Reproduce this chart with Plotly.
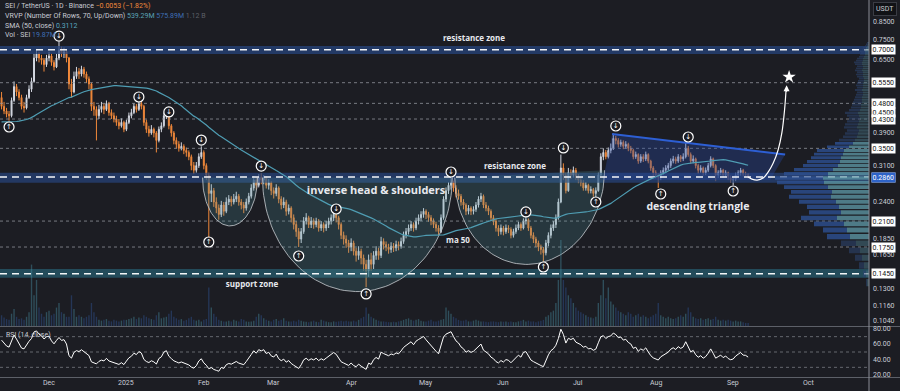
import numpy as np
import pandas as pd
import plotly.graph_objects as go

# ---------------- data ----------------
START_DATE = "2024-11-12"
FIRST_OPEN = 0.500
CLOSE = [0.470,0.455,0.445,0.440,0.490,0.540,0.520,0.500,0.470,0.465,0.500,0.530,0.560,0.660,0.680,0.660,0.650,0.630,0.660,
         0.670,0.640,0.620,0.660,0.700,0.680,0.690,0.660,0.550,0.520,0.580,0.600,0.590,0.610,0.590,0.570,0.550,0.470,0.460,0.440,0.460,0.470,0.460,0.480,0.450,0.440,0.430,0.420,0.410,0.420,0.400,
         0.420,0.440,0.450,0.470,0.460,0.480,0.470,0.420,0.400,0.390,0.400,0.390,0.370,0.400,0.410,0.440,0.450,0.410,0.390,0.370,0.360,0.350,0.355,0.345,0.340,0.330,0.310,0.300,0.310,0.330,0.340,
         0.310,0.290,0.255,0.260,0.240,0.230,0.220,0.235,0.225,0.240,0.245,0.240,0.245,0.250,0.240,0.235,0.230,0.240,0.250,0.265,0.280,0.270,0.285,0.280,0.285,0.270,0.275,0.260,
         0.255,0.265,0.245,0.235,0.240,0.225,0.230,0.215,0.205,0.195,0.185,0.195,0.210,0.215,0.205,0.210,0.205,0.210,0.200,0.205,0.200,0.205,0.210,0.215,0.220,0.215,0.205,0.190,0.185,0.180,0.175,
         0.180,0.170,0.165,0.170,0.162,0.155,0.148,0.160,0.155,0.165,0.170,0.165,0.182,0.178,0.175,0.172,0.176,0.174,0.178,0.176,0.182,0.190,0.195,0.200,0.205,0.200,0.210,0.215,0.220,0.225,
         0.220,0.215,0.210,0.205,0.200,0.195,0.215,0.245,0.260,0.270,0.275,0.265,0.255,0.250,0.240,0.235,0.225,0.230,0.225,0.228,0.235,0.245,0.250,0.235,0.230,0.225,0.215,0.210,0.200,0.195,0.200,
         0.195,0.200,0.198,0.190,0.195,0.200,0.205,0.200,0.210,0.212,0.200,0.190,0.185,0.180,0.175,0.172,0.168,0.180,0.190,0.200,0.205,0.215,0.240,0.305,0.290,0.260,0.295,0.290,0.300,0.285,
         0.280,0.275,0.265,0.270,0.260,0.262,0.255,0.260,0.290,0.330,0.340,0.330,0.345,0.350,0.375,0.370,0.360,0.365,0.355,0.360,0.350,0.345,0.330,0.335,0.320,0.330,0.325,0.335,0.320,0.305,0.295,
         0.290,0.285,0.295,0.300,0.305,0.310,0.320,0.325,0.320,0.330,0.325,0.330,0.350,0.335,0.320,0.325,0.310,0.300,0.305,0.295,0.300,0.310,0.325,0.310,0.290,0.295,0.300,0.290,0.295,0.285,
         0.280,0.282,0.290,0.295,0.300,0.292,0.2913,0.2860]
HIGH = [0.520,0.485,0.465,0.455,0.500,0.560,0.550,0.530,0.510,0.485,0.510,0.545,0.575,0.680,0.700,0.690,0.675,0.660,0.675,
        0.690,0.680,0.650,0.680,0.740,0.715,0.710,0.700,0.665,0.570,0.600,0.620,0.615,0.625,0.620,0.600,0.580,0.555,0.485,0.470,0.475,0.485,0.480,0.490,0.485,0.460,0.450,0.440,0.430,0.432,0.425,
        0.428,0.450,0.462,0.480,0.478,0.492,0.488,0.475,0.428,0.410,0.412,0.405,0.395,0.408,0.420,0.450,0.462,0.455,0.415,0.395,0.378,0.368,0.365,0.360,0.352,0.345,0.335,0.318,0.318,0.338,0.355,
        0.345,0.315,0.295,0.272,0.265,0.248,0.236,0.242,0.240,0.248,0.252,0.250,0.254,0.258,0.254,0.245,0.240,0.246,0.256,0.272,0.288,0.286,0.292,0.294,0.290,0.288,0.282,0.278,
        0.266,0.272,0.268,0.250,0.248,0.244,0.236,0.233,0.220,0.210,0.200,0.200,0.216,0.222,0.218,0.216,0.214,0.215,0.213,0.210,0.208,0.210,0.215,0.220,0.224,0.226,0.218,0.208,0.195,0.190,0.184,
        0.186,0.183,0.174,0.176,0.173,0.166,0.160,0.166,0.168,0.170,0.176,0.174,0.188,0.186,0.182,0.179,0.181,0.180,0.183,0.182,0.187,0.195,0.200,0.205,0.210,0.208,0.215,0.220,0.225,0.230,
        0.228,0.224,0.219,0.214,0.209,0.204,0.220,0.250,0.266,0.276,0.285,0.279,0.270,0.262,0.254,0.245,0.238,0.235,0.233,0.233,0.240,0.250,0.256,0.253,0.240,0.234,0.228,0.219,0.213,0.204,0.205,
        0.203,0.205,0.204,0.201,0.199,0.205,0.209,0.208,0.214,0.218,0.214,0.203,0.194,0.188,0.183,0.178,0.175,0.184,0.194,0.205,0.210,0.220,0.246,0.335,0.315,0.295,0.305,0.302,0.308,0.305,
        0.292,0.286,0.280,0.276,0.273,0.268,0.265,0.266,0.295,0.338,0.350,0.346,0.352,0.362,0.388,0.382,0.376,0.372,0.370,0.368,0.364,0.356,0.349,0.342,0.338,0.336,0.336,0.342,0.338,0.323,0.309,
        0.300,0.294,0.300,0.306,0.311,0.316,0.326,0.332,0.330,0.336,0.334,0.338,0.364,0.356,0.340,0.333,0.328,0.314,0.311,0.308,0.306,0.316,0.331,0.328,0.313,0.300,0.305,0.303,0.300,0.297,
        0.289,0.287,0.295,0.300,0.305,0.303,0.297,0.294]
LOW = [0.460,0.445,0.435,0.425,0.435,0.485,0.505,0.490,0.460,0.450,0.460,0.495,0.520,0.555,0.645,0.640,0.630,0.600,0.620,
       0.645,0.625,0.605,0.615,0.650,0.665,0.660,0.640,0.530,0.500,0.515,0.570,0.570,0.580,0.575,0.555,0.530,0.455,0.440,0.370,0.430,0.450,0.445,0.455,0.440,0.430,0.420,0.410,0.400,0.405,0.392,
       0.395,0.415,0.432,0.445,0.450,0.455,0.460,0.410,0.390,0.380,0.385,0.378,0.340,0.365,0.392,0.405,0.430,0.400,0.380,0.360,0.350,0.342,0.345,0.336,0.330,0.322,0.300,0.292,0.295,0.305,0.325,
       0.302,0.280,0.175,0.240,0.232,0.222,0.212,0.216,0.218,0.222,0.235,0.233,0.236,0.240,0.234,0.228,0.222,0.226,0.236,0.246,0.260,0.262,0.266,0.272,0.272,0.264,0.262,0.252,
       0.246,0.250,0.238,0.228,0.230,0.218,0.220,0.208,0.198,0.188,0.175,0.180,0.192,0.205,0.200,0.200,0.199,0.201,0.195,0.196,0.194,0.196,0.200,0.205,0.210,0.208,0.198,0.185,0.178,0.174,0.168,
       0.170,0.165,0.158,0.160,0.155,0.148,0.132,0.142,0.148,0.150,0.160,0.160,0.162,0.172,0.170,0.167,0.168,0.169,0.170,0.171,0.173,0.179,0.186,0.191,0.196,0.195,0.197,0.205,0.210,0.215,
       0.213,0.209,0.204,0.200,0.195,0.190,0.193,0.212,0.240,0.254,0.262,0.258,0.248,0.244,0.234,0.228,0.219,0.220,0.219,0.220,0.224,0.231,0.240,0.230,0.225,0.219,0.210,0.204,0.195,0.189,0.191,
       0.190,0.192,0.193,0.186,0.187,0.192,0.197,0.196,0.198,0.205,0.196,0.186,0.180,0.175,0.170,0.166,0.158,0.165,0.176,0.186,0.196,0.200,0.212,0.238,0.280,0.255,0.258,0.282,0.285,0.280,
       0.274,0.268,0.260,0.260,0.255,0.255,0.249,0.248,0.258,0.288,0.322,0.324,0.326,0.338,0.346,0.360,0.352,0.354,0.348,0.349,0.343,0.338,0.324,0.325,0.314,0.316,0.318,0.320,0.315,0.299,0.288,
       0.283,0.265,0.280,0.290,0.295,0.300,0.305,0.315,0.314,0.316,0.318,0.320,0.326,0.330,0.314,0.315,0.304,0.293,0.295,0.289,0.290,0.296,0.306,0.305,0.278,0.284,0.290,0.285,0.286,0.280,
       0.275,0.270,0.278,0.285,0.289,0.287,0.286,0.283]
# daily volume, millions of SEI
VOLUME = [70,55,45,40,80,110,60,45,50,40,60,90,400,200,300,120,80,60,90,
          100,70,80,120,150,90,80,60,60,200,110,60,70,60,50,60,70,150,90,60,40,35,40,45,35,30,40,35,30,35,40,
          40,45,50,60,45,55,50,70,60,50,45,40,70,90,50,55,60,80,100,60,50,40,45,35,40,50,60,40,35,40,30,
          40,45,250,120,80,60,40,35,30,30,35,30,40,35,30,45,40,30,28,30,35,60,80,70,50,40,35,30,
          40,45,35,40,50,35,30,30,35,30,40,35,30,28,25,30,35,28,25,40,35,30,25,25,30,28,30,35,30,35,30,
          30,35,30,40,50,60,120,80,60,50,40,35,30,30,28,25,25,28,25,30,35,40,45,50,40,35,40,45,35,30,
          30,35,40,30,30,35,40,45,120,100,80,60,50,40,35,35,40,30,30,35,40,35,30,30,28,25,30,30,28,25,30,
          28,30,25,30,25,25,30,35,40,30,35,30,30,25,30,35,40,60,70,90,100,150,300,560,300,250,200,180,150,120,
          100,90,80,70,60,55,50,60,150,200,300,180,250,160,140,120,100,90,80,70,90,80,60,70,80,60,70,60,50,60,70,
          80,150,70,60,50,60,50,45,50,60,70,60,80,120,90,60,50,45,50,40,45,50,40,45,60,40,35,40,35,40,35,
          30,35,30,30,25,20,20]
# closes before the first visible candle (warm-up for SMA 50 / RSI 14)
PRE_CLOSE = [0.44,0.46,0.48,0.50,0.49,0.47,0.44,
             0.41,0.40,0.39,0.40,0.41,0.42,0.43,0.41,0.40,0.39,0.41,0.43,0.45,0.47,0.46,0.45,0.46,0.45,0.44,0.45,0.44,0.42,0.40,0.41,0.38,0.39,0.40,0.39,0.40,0.38,0.37,
             0.38,0.37,0.36,0.35,0.36,0.39,0.41,0.42,0.44,0.46,0.48]

# Visible range volume profile (70 rows, up / down volume)
PROFILE_LOW, PROFILE_HIGH = 0.132, 0.740
PROFILE_UP = [2,3,5,7,9,13,19,22,25,32,28,30,33,38,37,41,45,46,41,36,31,29,28,26,25,20,16,14,12,11,
              10,12,11,10,9,10,11,9,8,8,7,7,7,6,6,7,6,6,6,5,5,6,6,6,7,6,6,7,7,6,6,5,4,4,4,3,3,2,1,1]
PROFILE_DOWN = [1,3,5,7,11,15,23,24,30,36,32,32,37,42,41,44,47,48,44,39,35,33,30,29,27,22,18,16,14,13,
                12,13,13,12,11,12,13,11,10,9,9,8,7,7,6,7,6,7,6,6,5,6,7,6,7,7,6,7,8,7,6,5,5,4,5,4,3,2,2,1]
VALUE_AREA = (6, 26)

GRAY_LEVELS = [0.555, 0.48, 0.43, 0.35, 0.21, 0.175]
ZONE_LEVELS = [0.700, 0.286, 0.145]
ZONE_LOW = [0.679, 0.275, 0.141]
ZONE_HIGH = [0.718, 0.295, 0.150]
ZONE_COLORS = ["rgba(38,68,125,0.75)", "rgba(38,68,125,0.70)", "rgba(40,100,120,0.65)"]

MONTH_DATES = ["2024-12-01", "2025-01-01", "2025-02-01", "2025-03-01", "2025-04-01", "2025-05-01",
               "2025-06-01", "2025-07-01", "2025-08-01", "2025-09-01", "2025-10-01"]
MONTH_LABELS = ["Dec", "2025", "Feb", "Mar", "Apr", "May", "Jun", "Jul", "Aug", "Sep", "Oct"]

AXIS_PLAIN = [0.85, 0.75, 0.65, 0.39, 0.31, 0.24, 0.185, 0.165, 0.13, 0.116, 0.104]
AXIS_BOXED = [0.70, 0.555, 0.48, 0.45, 0.43, 0.35, 0.285, 0.21, 0.175, 0.145]
AXIS_HILITE = [0.286]
RSI_TICKS = [80, 60, 40, 20]

# pivot markers (day index from start, price)
MARK_DOWN_DAY = [23, 55, 67, 80, 104, 134, 180, 210, 225, 246, 275]
MARK_DOWN_P = [0.770, 0.502, 0.452, 0.371, 0.309, 0.2286, 0.2964, 0.2239, 0.351, 0.4095, 0.379]
MARK_UP_DAY = [3, 83, 119, 146, 217, 238, 264, 293]
MARK_UP_P = [0.4066, 0.1813, 0.1643, 0.1259, 0.1521, 0.2401, 0.254, 0.2594]

# ---------------- derived ----------------
start = pd.Timestamp(START_DATE)
dates = pd.date_range(start, periods=len(CLOSE), freq="D")
OPEN = [FIRST_OPEN] + CLOSE[:-1]
allc = pd.Series(PRE_CLOSE + CLOSE, dtype=float)
sma = allc.rolling(50).mean().iloc[-len(CLOSE):].values
dlt = allc.diff()
au = dlt.clip(lower=0).ewm(alpha=1/14, adjust=False).mean()
ad = (-dlt.clip(upper=0)).ewm(alpha=1/14, adjust=False).mean()
rsi = (100 - 100 / (1 + au / ad)).iloc[-len(CLOSE):].values

def day(d):
    return start + pd.Timedelta(days=float(d))

X0 = pd.Timestamp("2024-11-11 09:00")
X1 = pd.Timestamp("2025-10-25 09:40")
XD = 869 / 900
BG = "#1c1d23"
FONT = "Roboto"

fig = go.Figure()

def hline(p, color, width, dash):
    fig.add_trace(go.Scatter(x=[X0, X1], y=[p, p], mode="lines", line=dict(color=color, width=width, dash=dash),
                             hoverinfo="skip", showlegend=False))

# volume bars (bottom of price pane)
vcol = ["rgba(70,140,160,0.45)" if c >= o else "rgba(45,80,140,0.5)" for o, c in zip(OPEN, CLOSE)]
fig.add_trace(go.Bar(x=dates, y=VOLUME, yaxis="y3", marker=dict(color=vcol, line=dict(width=0)),
                     hoverinfo="skip", showlegend=False))

# zones
for lo, hi, c in zip(ZONE_LOW, ZONE_HIGH, ZONE_COLORS):
    fig.add_trace(go.Scatter(x=[X0, X1, X1, X0, X0], y=[lo, lo, hi, hi, lo], fill="toself", fillcolor=c,
                             line=dict(width=0), mode="lines", hoverinfo="skip", showlegend=False))
for p in GRAY_LEVELS:
    hline(p, "rgba(150,153,162,0.75)", 1, "3px,3px")

# arcs (inverse head & shoulders)
ARCS = [(80.5, 102.5, 0.285, 0.285, 0.203), (104.5, 180.5, 0.285, 0.285, 0.128), (181.5, 241.5, 0.285, 0.300, 0.155)]
for d0, d1, p0, p1, pb in ARCS:
    t = np.linspace(0, np.pi, 80)
    f = (1 - np.cos(t)) / 2
    mid = (np.log(p0) + np.log(p1)) / 2
    depth = mid - np.log(pb)
    yy = np.exp(np.log(p0) + (np.log(p1) - np.log(p0)) * f - depth * np.sin(t))
    xx = [day(d0 + (d1 - d0) * v) for v in f]
    fig.add_trace(go.Scatter(x=xx, y=yy, mode="lines", fill="toself", fillcolor="rgba(80,150,160,0.22)",
                             line=dict(color="rgba(190,195,200,0.85)", width=1), hoverinfo="skip", showlegend=False))

# descending triangle
TRI_DAY = [244.5, 313.8, 307.8, 240.9, 244.5]
TRI_P = [0.387, 0.335, 0.280, 0.280, 0.387]
fig.add_trace(go.Scatter(x=[day(d) for d in TRI_DAY], y=TRI_P, fill="toself", fillcolor="rgba(40,75,165,0.35)",
                         line=dict(width=0), mode="lines", hoverinfo="skip", showlegend=False))
fig.add_trace(go.Scatter(x=[day(244.5), day(313.8)], y=[0.387, 0.335], mode="lines",
                         line=dict(color="#2d5fd4", width=2), hoverinfo="skip", showlegend=False))

# zone dashed lines
for p in ZONE_LEVELS:
    hline(p, "rgba(255,255,255,0.95)", 1.5, "7px,5px")

# volume profile
rows = len(PROFILE_UP)
step = (PROFILE_HIGH - PROFILE_LOW) / rows
tot = [u + d for u, d in zip(PROFILE_UP, PROFILE_DOWN)]
def prof_trace(idx, left_from_up, color):
    xs, ys = [], []
    for i in idx:
        lo = PROFILE_LOW + i * step + step * 0.1
        hi = PROFILE_LOW + (i + 1) * step - step * 0.1
        a, b = (0, PROFILE_UP[i]) if not left_from_up else (PROFILE_UP[i], tot[i])
        xs += [a, b, b, a, a, None]
        ys += [lo, lo, hi, hi, lo, None]
    fig.add_trace(go.Scatter(x=xs, y=ys, xaxis="x3", yaxis="y", fill="toself", fillcolor=color, mode="lines",
                             line=dict(width=0), hoverinfo="skip", showlegend=False))
va = [i for i in range(rows) if VALUE_AREA[0] <= i <= VALUE_AREA[1]]
nva = [i for i in range(rows) if i not in va]
prof_trace(nva, False, "rgba(70,110,125,0.55)")
prof_trace(nva, True, "rgba(45,70,115,0.55)")
prof_trace(va, False, "rgba(95,155,170,0.75)")
prof_trace(va, True, "rgba(45,80,145,0.80)")

# SMA 50
fig.add_trace(go.Scatter(x=dates, y=sma, mode="lines", line=dict(color="#4f9db3", width=1.2),
                         hoverinfo="skip", showlegend=False))

# candles
fig.add_trace(go.Candlestick(x=dates, open=OPEN, high=HIGH, low=LOW, close=CLOSE,
                             increasing=dict(line=dict(color="#d3d7e0", width=1), fillcolor="#d3d7e0"),
                             decreasing=dict(line=dict(color="#f0883a", width=1), fillcolor="#f0883a"),
                             whiskerwidth=0, showlegend=False, hoverinfo="skip"))

# projection curve + star
PROJ_DAY = [298.95, 300.5, 302.6, 305, 307, 309, 311, 312.5, 313.6, 314.2]
PROJ_P = [0.286, 0.282, 0.280, 0.284, 0.296, 0.315, 0.346, 0.39, 0.46, 0.53]
fig.add_trace(go.Scatter(x=[day(d) for d in PROJ_DAY], y=PROJ_P, mode="lines", line=dict(color="white", width=1.2, shape="spline"),
                         hoverinfo="skip", showlegend=False))
fig.add_trace(go.Scatter(x=[day(315.4)], y=[0.578], mode="markers", marker=dict(symbol="star", size=10, color="white"),
                         hoverinfo="skip", showlegend=False))

# pivot markers
for dd, pp, g in [(MARK_DOWN_DAY, MARK_DOWN_P, "↓"), (MARK_UP_DAY, MARK_UP_P, "↑")]:
    fig.add_trace(go.Scatter(x=[day(v) for v in dd], y=pp, mode="markers+text", text=[g] * len(dd),
                             textposition="middle center", textfont=dict(color="white", size=7, family="DejaVu Sans"),
                             marker=dict(symbol="circle", size=10, color=BG, line=dict(color="white", width=1.2)),
                             hoverinfo="skip", showlegend=False))

# drawing texts
TXT = [("resistance zone", 189.2, 0.754, 8), ("resistance zone", 205.6, 0.307, 8), ("inverse head & shoulders", 150, 0.2594, 11),
       ("support zone", 100.3, 0.134, 8), ("ma 50", 182.8, 0.1826, 8), ("descending triangle", 278.9, 0.2319, 10.5)]
for s, d, p, sz in TXT:
    fig.add_trace(go.Scatter(x=[day(d)], y=[p], mode="text", text=[f"<b>{s}</b>"], textposition="middle center",
                             textfont=dict(color="#e8e9ee", size=sz, family="Open Sans"), hoverinfo="skip", showlegend=False))

# RSI
for lv in [70, 50, 30]:
    fig.add_trace(go.Scatter(x=[X0, X1], y=[lv, lv], xaxis="x2", yaxis="y2", mode="lines",
                             line=dict(color="rgba(150,153,162,0.6)", width=1, dash="3px,3px"), hoverinfo="skip", showlegend=False))
fig.add_trace(go.Scatter(x=dates, y=rsi, xaxis="x2", yaxis="y2", mode="lines", line=dict(color="white", width=1),
                         hoverinfo="skip", showlegend=False))

maxtot = max(tot)
fig.update_layout(
    width=900, height=391, margin=dict(l=0, r=0, t=0, b=0), paper_bgcolor=BG, plot_bgcolor=BG,
    font=dict(family=FONT, color="#b2b5be", size=8), bargap=0.45, boxgap=0.45,
    xaxis=dict(type="date", range=[X0, X1], domain=[0, XD], anchor="y", showgrid=False, zeroline=False,
               showticklabels=False, rangeslider=dict(visible=False), showline=False),
    yaxis=dict(type="log", range=[np.log10(0.1005), np.log10(0.992)], domain=[1 - 326 / 391, 1], showgrid=False,
               zeroline=False, showticklabels=False),
    yaxis3=dict(overlaying="y", range=[0, 560 * 326 / 86], showgrid=False, zeroline=False, showticklabels=False, visible=False),
    xaxis2=dict(type="date", range=[X0, X1], domain=[0, XD], anchor="y2", matches="x", showgrid=False, zeroline=False,
                showticklabels=False),
    yaxis2=dict(range=[17.4, 82.6], domain=[1 - 377 / 391, 1 - 327 / 391], showgrid=False, zeroline=False,
                showticklabels=False),
    xaxis3=dict(overlaying="x", range=[maxtot * 869 / 94, 0], anchor="y", showgrid=False, zeroline=False,
                showticklabels=False, visible=False),
)

ann = []
def A(**k):
    ann.append(k)

# header
HS = 7
hdr = [("SEI / TetherUS · 1D · Binance <span style='color:#f28a3c'>−0.0053 (−1.82%)</span>", 6),
       ("VRVP (Number Of Rows, 70, Up/Down) <span style='color:#5aa3b5'>539.29M</span> <span style='color:#3f6fb5'>575.89M</span> <span style='color:#5d6068'>1.12 B</span>", 16),
       ("SMA (50, close) <span style='color:#5aa8c0'>0.3112</span>", 26),
       ("Vol · SEI <span style='color:#3f6fb5'>19.87M</span>", 35)]
for s, y in hdr:
    A(text=s, x=3 / 900, y=1 - y / 391, xref="paper", yref="paper", xanchor="left", yanchor="middle", showarrow=False,
      font=dict(size=HS, color="#c9ccd4", family=FONT))
A(text="RSI (14, close)", x=4 / 900, y=1 - 335 / 391, xref="paper", yref="paper", xanchor="left", yanchor="middle",
  showarrow=False, font=dict(size=HS, color="#c9ccd4", family=FONT))

# right axis
AX = 871 / 900
AS = 7
for p in AXIS_PLAIN:
    A(text=f"{p:.4f}", x=AX, y=np.log10(p), xref="paper", yref="y", xanchor="left", yanchor="middle", showarrow=False,
      font=dict(size=AS, color="#c9ccd4", family=FONT))
for p in AXIS_BOXED:
    A(text=f"{p:.4f}", x=AX, y=np.log10(p), xref="paper", yref="y", xanchor="left", yanchor="middle", showarrow=False,
      font=dict(size=AS, color="#111111", family=FONT), bgcolor="#ffffff", borderpad=0.5)
for p in AXIS_HILITE:
    A(text=f"{p:.4f}", x=AX, y=np.log10(p), xref="paper", yref="y", xanchor="left", yanchor="middle", showarrow=False,
      font=dict(size=AS, color="#ffffff", family=FONT), bgcolor="#2e63c8", borderpad=0.5)
for r in RSI_TICKS:
    A(text=f"{r:.2f}", x=AX, y=r, xref="paper", yref="y2", xanchor="left", yanchor="middle", showarrow=False,
      font=dict(size=AS, color="#c9ccd4", family=FONT))
A(text="USDT", x=885 / 900, y=1 - 9 / 391, xref="paper", yref="paper", xanchor="center", yanchor="middle", showarrow=False,
  font=dict(size=7, color="#c9ccd4", family=FONT), bgcolor="#111216", bordercolor="#3a3c44", borderwidth=1, borderpad=2)
# months
for dstr, lab in zip(MONTH_DATES, MONTH_LABELS):
    A(text=lab, x=dstr, y=1 - 383 / 391, xref="x", yref="paper", xanchor="center", yanchor="middle", showarrow=False,
      font=dict(size=HS, color="#c9ccd4", family=FONT))
# arrow head of projection
A(x=day(314.4), y=np.log10(0.545), xref="x", yref="y", ax=0, ay=8, axref="pixel", ayref="pixel", text="", showarrow=True,
  arrowhead=2, arrowsize=1, arrowwidth=1.2, arrowcolor="white")
fig.update_layout(annotations=ann)

# separators
sep = "#5d6068"
fig.add_shape(type="line", xref="paper", yref="paper", x0=0, x1=1, y0=1 - 326.5 / 391, y1=1 - 326.5 / 391, line=dict(color=sep, width=1))
fig.add_shape(type="line", xref="paper", yref="paper", x0=0, x1=1, y0=1 - 377.5 / 391, y1=1 - 377.5 / 391, line=dict(color=sep, width=1))
fig.add_shape(type="line", xref="paper", yref="paper", x0=XD, x1=XD, y0=0, y1=1, line=dict(color="#8a8d96", width=1))

fig.write_html("out.html", config={"displayModeBar": False},
               post_script="document.body.style.margin='0';document.body.style.overflow='hidden';")
